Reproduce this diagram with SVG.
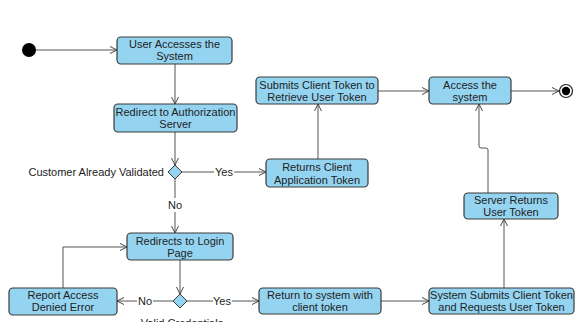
<svg xmlns="http://www.w3.org/2000/svg" width="576" height="322" viewBox="0 0 576 322">
<defs>
<marker id="arr" markerUnits="userSpaceOnUse" markerWidth="10" markerHeight="10" refX="7" refY="4" orient="auto">
<path d="M0,0.5 L7,4 L0,7.5" fill="none" stroke="#444" stroke-width="1"/>
</marker>
<style>
.box{fill:#94d4f1;stroke:#3a3a3a;stroke-width:1.2}
.t{font-family:"Liberation Sans",Arial,sans-serif;font-size:11px;fill:#222;text-anchor:middle}
.lbl{font-family:"Liberation Sans",Arial,sans-serif;font-size:11px;fill:#222}
.c{fill:none;stroke:#555;stroke-width:1}
.ca{fill:none;stroke:#555;stroke-width:1;marker-end:url(#arr)}
</style>
</defs>
<rect width="576" height="322" fill="#fff"/>

<g id="connectors">
<path class="ca" d="M36,50 H117"/>
<path class="ca" d="M175,64 V104"/>
<path class="ca" d="M175,132 V165"/>
<path class="c" d="M182,172 H214"/>
<path class="ca" d="M234,172 H266"/>
<path class="ca" d="M318,159 V104"/>
<path class="ca" d="M378,91 H429"/>
<path class="ca" d="M511,91 H559"/>
<path class="ca" d="M488,193 V150 Q488,148 486,148 H481 Q479,148 479,146 V104"/>
<path class="ca" d="M504,288 V219"/>
<path class="ca" d="M381,301 H429"/>
<path class="c" d="M175,179 V198"/>
<path class="ca" d="M175,212 V233"/>
<path class="ca" d="M180,260 V294"/>
<path class="c" d="M187,301 H213"/>
<path class="ca" d="M232,301 H259"/>
<path class="c" d="M173,301 H153"/>
<path class="ca" d="M137,301 H117"/>
<path class="ca" d="M63,288 V247 H127"/>
<text class="t" x="224" y="176">Yes</text>
<text class="t" x="175" y="209">No</text>
<text class="t" x="222" y="305">Yes</text>
<text class="t" x="145" y="305">No</text>
</g>

<g id="start"><circle cx="29" cy="50" r="7" fill="#000"/></g>
<g id="end"><circle cx="566" cy="91" r="6.5" fill="#fff" stroke="#222" stroke-width="1.2"/><circle cx="566" cy="91" r="4.2" fill="#000"/></g>

<g id="user-accesses"><rect class="box" x="117" y="37" width="115" height="27" rx="4"/>
<text class="t" x="174.5" y="48">User Accesses the</text><text class="t" x="174.5" y="60">System</text></g>

<g id="redirect-auth"><rect class="box" x="114" y="104" width="123" height="28" rx="4"/>
<text class="t" x="175.5" y="116">Redirect to Authorization</text><text class="t" x="175.5" y="128">Server</text></g>

<g id="decision-validated"><path d="M175,165 L182,172 L175,179 L168,172 Z" fill="#94d4f1" stroke="#3a3a3a" stroke-width="1"/>
<text class="lbl" x="164" y="176" text-anchor="end">Customer Already Validated</text></g>

<g id="returns-client"><rect class="box" x="266" y="159" width="102" height="28" rx="4"/>
<text class="t" x="317" y="171">Returns Client</text><text class="t" x="317" y="184">Application Token</text></g>

<g id="submits-client"><rect class="box" x="256" y="77" width="122" height="27" rx="4"/>
<text class="t" x="317" y="89">Submits Client Token to</text><text class="t" x="317" y="101">Retrieve User Token</text></g>

<g id="access-system"><rect class="box" x="429" y="77" width="82" height="27" rx="4"/>
<text class="t" x="470" y="89">Access the</text><text class="t" x="470" y="101">system</text></g>

<g id="server-returns"><rect class="box" x="464" y="193" width="94" height="26" rx="4"/>
<text class="t" x="511" y="204">Server Returns</text><text class="t" x="511" y="216">User Token</text></g>

<g id="redirect-login"><rect class="box" x="127" y="233" width="106" height="27" rx="4"/>
<text class="t" x="180" y="245">Redirects to Login</text><text class="t" x="180" y="257">Page</text></g>

<g id="decision-credentials"><path d="M180,294 L187,301 L180,308 L173,301 Z" fill="#94d4f1" stroke="#3a3a3a" stroke-width="1"/>
<text class="t" x="182" y="327">Valid Credentials</text></g>

<g id="report-denied"><rect class="box" x="9" y="288" width="108" height="27" rx="4"/>
<text class="t" x="63" y="299">Report Access</text><text class="t" x="63" y="311">Denied Error</text></g>

<g id="return-system"><rect class="box" x="259" y="288" width="122" height="26" rx="4"/>
<text class="t" x="320" y="299">Return to system with</text><text class="t" x="320" y="311">client token</text></g>

<g id="system-submits"><rect class="box" x="429" y="288" width="145" height="26" rx="4"/>
<text class="t" x="501.5" y="299">System Submits Client Token</text><text class="t" x="501.5" y="311">and Requests User Token</text></g>
</svg>
